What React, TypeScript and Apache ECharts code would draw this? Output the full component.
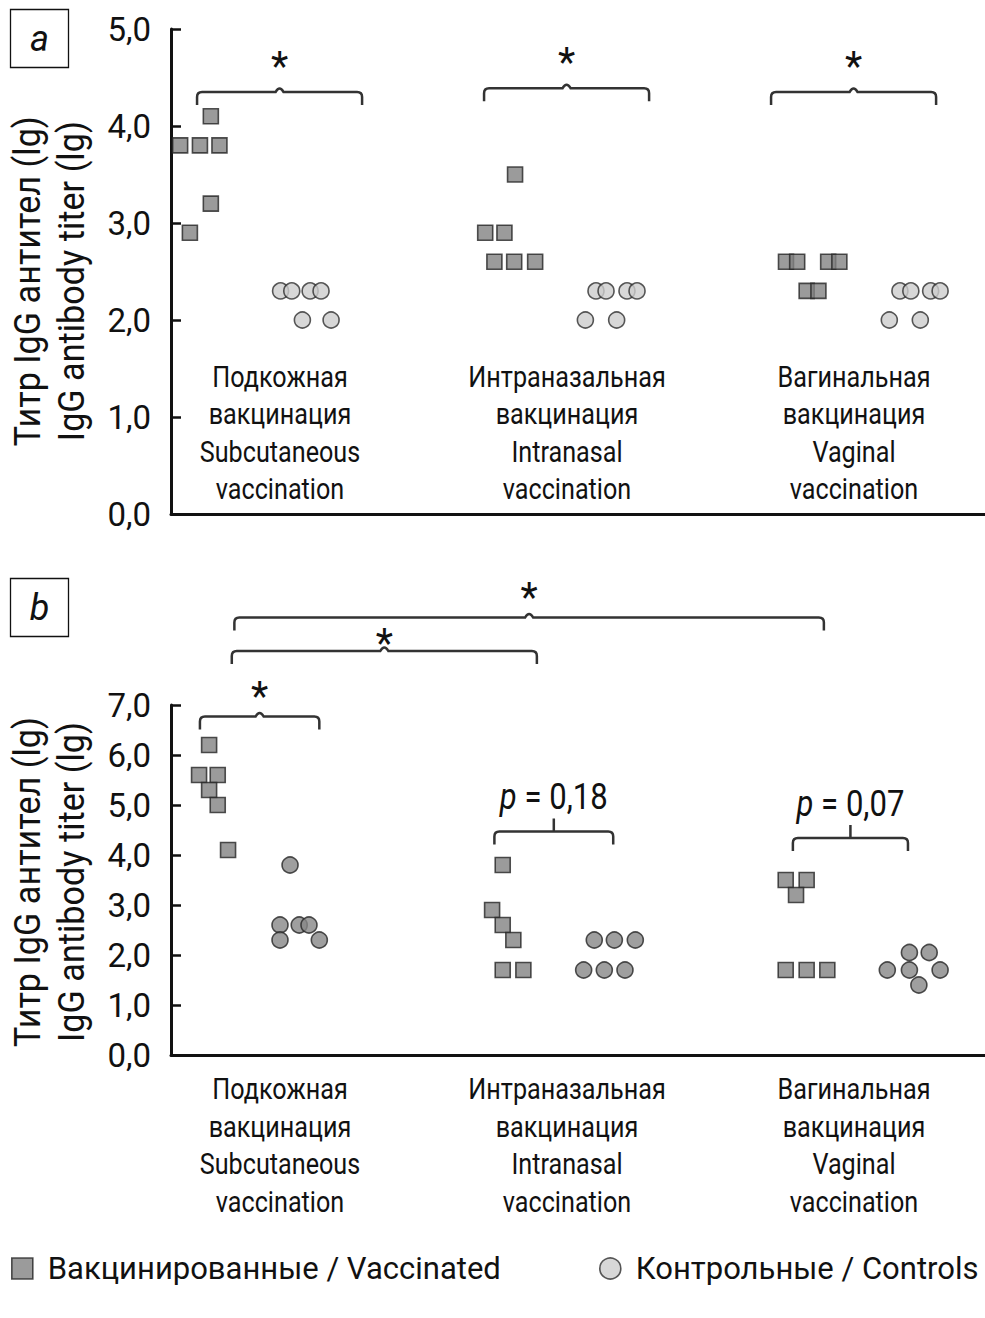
import React, { useEffect, useRef } from "react";
import * as echarts from "echarts";

const FONT = 'Roboto, "Liberation Sans", "Noto Sans", sans-serif';
const SX = 0.84; // horizontal squeeze to mimic the condensed face of the original

const VACC = "Вакцинированные / Vaccinated";
const CTRL = "Контрольные / Controls";

const categories = [
  "Подкожная\nвакцинация\nSubcutaneous\nvaccination",
  "Интраназальная\nвакцинация\nIntranasal\nvaccination",
  "Вагинальная\nвакцинация\nVaginal\nvaccination",
];

const yTicksA = [0, 1, 2, 3, 4, 5];
const yTicksB = [0, 1, 2, 3, 4, 5, 6, 7];

// Panel a: values (lg) per group and horizontal jitter within the group
const aVaccValues = [
  [4.1, 3.8, 3.8, 3.8, 3.2, 2.9],
  [3.5, 2.9, 2.9, 2.6, 2.6, 2.6],
  [2.6, 2.6, 2.6, 2.6, 2.3, 2.3],
];
const aVaccJitter = [
  [-0.241, -0.348, -0.279, -0.211, -0.241, -0.314],
  [-0.181, -0.285, -0.218, -0.253, -0.184, -0.111],
  [-0.237, -0.198, -0.09, -0.051, -0.165, -0.124],
];
const aCtrlValues = [
  [2.3, 2.3, 2.3, 2.3, 2.0, 2.0],
  [2.3, 2.3, 2.3, 2.3, 2.0, 2.0],
  [2.3, 2.3, 2.3, 2.3, 2.0, 2.0],
];
const aCtrlJitter = [
  [0.002, 0.041, 0.105, 0.143, 0.078, 0.178],
  [0.101, 0.136, 0.209, 0.244, 0.064, 0.173],
  [0.16, 0.198, 0.267, 0.3, 0.123, 0.231],
];

// Panel b
const bVaccValues = [
  [6.2, 5.6, 5.6, 5.3, 5.0, 4.1],
  [3.8, 2.9, 2.6, 2.3, 1.7, 1.7],
  [3.5, 3.5, 3.2, 1.7, 1.7, 1.7],
];
const bVaccJitter = [
  [-0.247, -0.282, -0.217, -0.247, -0.217, -0.181],
  [-0.224, -0.261, -0.224, -0.187, -0.224, -0.152],
  [-0.238, -0.165, -0.202, -0.238, -0.165, -0.093],
];
const bCtrlValues = [
  [3.8, 2.6, 2.6, 2.6, 2.3, 2.3],
  [2.3, 2.3, 2.3, 1.7, 1.7, 1.7],
  [2.05, 2.05, 1.7, 1.7, 1.7, 1.4],
];
const bCtrlJitter = [
  [0.035, 0.0, 0.067, 0.101, 0.0, 0.137],
  [0.095, 0.165, 0.238, 0.058, 0.13, 0.202],
  [0.193, 0.262, 0.116, 0.193, 0.3, 0.226],
];

// Significance brackets: [from, to, level]
const aBrackets = [
  [-0.289, 0.286, 4.35],
  [0.711, 1.286, 4.39],
  [1.711, 2.286, 4.35],
];
const aBracketLabels = ["*", "*", "*"];
const bBrackets = [
  [-0.159, 1.895, 8.75],
  [-0.168, 0.895, 8.08],
  [-0.279, 0.137, 6.77],
  [0.747, 1.161, 4.47],
  [1.787, 2.188, 4.34],
];
const bBracketLabels = ["*", "*", "*", "p = 0,18", "p = 0,07"];
// label offsets above the bracket line (layout, px)
const aLabelGap = [26, 26, 26];
const bLabelGap = [20, 8, 20, 35, 35];

const toPoints = (values: number[][], jitter: number[][]) =>
  values.flatMap((grp, g) => grp.map((v, i) => [g + jitter[g][i], v]));

const fmt = (v: number) => v.toFixed(1).replace(".", ",");

function bracketSeries(data: number[][], labels: string[], gaps: number[], gridIdx: number) {
  return {
    type: "custom",
    xAxisIndex: gridIdx,
    yAxisIndex: gridIdx,
    clip: false,
    silent: true,
    encode: { x: [0, 1], y: 2 },
    data,
    renderItem: (params: any, api: any) => {
      const x1 = api.value(0);
      const x2 = api.value(1);
      const y = api.value(2);
      const p1 = api.coord([x1, y]);
      const p2 = api.coord([x2, y]);
      const yy = p1[1];
      const xa = p1[0];
      const xb = p2[0];
      const xm = (xa + xb) / 2;
      const drop = 13;
      const r = 5;
      const label = labels[params.dataIndex];
      const gap = gaps[params.dataIndex];
      const isP = label !== "*";
      const mid = isP
        ? `L ${xm} ${yy} L ${xm} ${yy - 13} M ${xm} ${yy}`
        : `L ${xm - 4} ${yy} Q ${xm} ${yy - 7} ${xm + 4} ${yy}`;
      const pathData = `M ${xa} ${yy + drop} L ${xa} ${yy + r} Q ${xa} ${yy} ${xa + r} ${yy} ${mid} L ${xb - r} ${yy} Q ${xb} ${yy} ${xb} ${yy + r} L ${xb} ${yy + drop}`;
      const text = isP
        ? {
            type: "text",
            x: xm,
            y: yy - gap,
            scaleX: SX,
            style: {
              text: "{i|p} " + label.slice(2),
              rich: { i: { fontStyle: "italic", fontSize: 37, fontFamily: FONT, fill: "#111" } },
              fontSize: 37,
              fontFamily: FONT,
              fill: "#111",
              align: "center",
              verticalAlign: "middle",
            },
          }
        : {
            type: "text",
            x: xm,
            y: yy - gap,
            style: {
              text: label,
              fontSize: 40,
              fontFamily: FONT,
              fill: "#111",
              align: "center",
              verticalAlign: "middle",
            },
          };
      return {
        type: "group",
        children: [
          { type: "path", shape: { pathData }, style: { fill: "none", stroke: "#333", lineWidth: 2.5 } },
          text,
        ],
      };
    },
  };
}

export default function App() {
  const ref = useRef<HTMLDivElement>(null);
  useEffect(() => {
    if (!ref.current) return;
    const chart = echarts.init(ref.current, null, { renderer: "svg" });
    const xMin = -0.3798;
    const xMax = 2.4564;
    const xAxisCommon = {
      type: "value",
      min: xMin,
      max: xMax,
      axisLine: { show: true, onZero: false, lineStyle: { color: "#111", width: 3 } },
      axisTick: { show: false },
      axisLabel: { show: false },
      splitLine: { show: false },
    };
    const yAxisCommon = {
      type: "value",
      min: 0,
      interval: 1,
      axisLine: { show: true, onZero: false, lineStyle: { color: "#111", width: 3 } },
      axisTick: { show: true, inside: true, length: 10, lineStyle: { color: "#111", width: 2.5 } },
      axisLabel: { formatter: fmt, fontSize: 33, fontFamily: FONT, color: "#111", margin: 20 },
      splitLine: { show: false },
    };
    const vaccStyle = { color: "#828282", borderColor: "#262626", borderWidth: 1.6 };
    const ctrlStyleA = { color: "#cdcdcd", borderColor: "#2e2e2e", borderWidth: 1.6 };
    const ctrlStyleB = { color: "#878787", borderColor: "#262626", borderWidth: 1.6 };
    const legendCommon = {
      top: 1248,
      itemWidth: 21,
      itemHeight: 21,
      selectedMode: false,
      textStyle: { fontSize: 31, fontFamily: FONT, color: "#111", padding: [0, 0, 0, 10] },
    };

    chart.setOption({
      animation: false,
      backgroundColor: "#fff",
      grid: [
        { left: 171, right: 0, top: 29, height: 485 },
        { left: 171, right: 0, top: 705, height: 350 },
      ],
      xAxis: [
        { ...xAxisCommon, gridIndex: 0 },
        { ...xAxisCommon, gridIndex: 1 },
      ],
      yAxis: [
        { ...yAxisCommon, gridIndex: 0, max: yTicksA[yTicksA.length - 1] },
        { ...yAxisCommon, gridIndex: 1, max: yTicksB[yTicksB.length - 1] },
      ],
      legend: [
        { ...legendCommon, left: 6, data: [{ name: VACC, icon: "rect", itemStyle: vaccStyle }] },
        { ...legendCommon, left: 594, data: [{ name: CTRL, icon: "circle", itemStyle: ctrlStyleA }] },
      ],
      series: [
        {
          name: VACC,
          type: "scatter",
          xAxisIndex: 0,
          yAxisIndex: 0,
          symbol: "rect",
          symbolSize: 15,
          itemStyle: vaccStyle,
          data: toPoints(aVaccValues, aVaccJitter),
        },
        {
          name: CTRL,
          type: "scatter",
          xAxisIndex: 0,
          yAxisIndex: 0,
          symbol: "circle",
          symbolSize: 16,
          itemStyle: ctrlStyleA,
          data: toPoints(aCtrlValues, aCtrlJitter),
        },
        {
          name: VACC,
          type: "scatter",
          xAxisIndex: 1,
          yAxisIndex: 1,
          symbol: "rect",
          symbolSize: 15,
          itemStyle: vaccStyle,
          data: toPoints(bVaccValues, bVaccJitter),
        },
        {
          name: CTRL,
          type: "scatter",
          xAxisIndex: 1,
          yAxisIndex: 1,
          symbol: "circle",
          symbolSize: 16,
          itemStyle: ctrlStyleB,
          data: toPoints(bCtrlValues, bCtrlJitter),
        },
        bracketSeries(aBrackets, aBracketLabels, aLabelGap, 0),
        bracketSeries(bBrackets, bBracketLabels, bLabelGap, 1),
      ],
    });

    // Category labels and titles positioned through the axes
    const graphics: any[] = [];
    categories.forEach((c, i) => {
      const pa = chart.convertToPixel({ gridIndex: 0 } as any, [i, 0.84]) as number[];
      const pb = chart.convertToPixel({ gridIndex: 1 } as any, [i, -1.8]) as number[];
      [pa, pb].forEach((p) =>
        graphics.push({
          type: "text",
          x: p[0],
          y: p[1],
          scaleX: SX,
          style: {
            text: c,
            fontSize: 30,
            fontFamily: FONT,
            fill: "#111",
            lineHeight: 37.5,
            align: "center",
            verticalAlign: "middle",
          },
        })
      );
    });
    const yName = "Титр IgG антител (lg)\nIgG antibody titer (lg)";
    const na = chart.convertToPixel({ gridIndex: 0 } as any, [0, 2.4]) as number[];
    const nb = chart.convertToPixel({ gridIndex: 1 } as any, [0, 3.46]) as number[];
    [na, nb].forEach((p) =>
      graphics.push({
        type: "text",
        x: 50,
        y: p[1],
        rotation: Math.PI / 2,
        scaleX: 0.95,
        style: {
          text: yName,
          fontSize: 36,
          fontFamily: FONT,
          fill: "#111",
          lineHeight: 44,
          align: "center",
          verticalAlign: "middle",
        },
      })
    );
    [
      { label: "a", top: 9 },
      { label: "b", top: 578 },
    ].forEach((b) => {
      graphics.push({
        type: "rect",
        shape: { x: 10.5, y: b.top + 0.5, width: 58, height: 58 },
        style: { fill: "#fff", stroke: "#111", lineWidth: 1.3 },
      });
      graphics.push({
        type: "text",
        x: 39.5,
        y: b.top + 30,
        style: {
          text: b.label,
          fontSize: 36,
          fontStyle: "italic",
          fontFamily: FONT,
          fill: "#111",
          align: "center",
          verticalAlign: "middle",
        },
      });
    });
    chart.setOption({ graphic: graphics });

    return () => chart.dispose();
  }, []);
  return (
    <div
      ref={ref}
      style={{ position: "absolute", left: 0, top: 0, width: 985, height: 1318, background: "#fff" }}
    />
  );
}
